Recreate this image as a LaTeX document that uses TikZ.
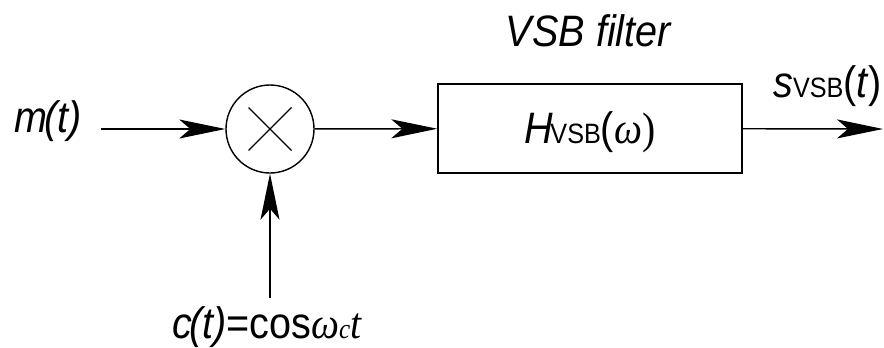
\documentclass[tikz,border=0pt]{standalone}
\usepackage{fontspec}
\setmainfont{Liberation Sans}[FakeStretch=0.9]
\newfontfamily\omfont{Liberation Serif}[FakeStretch=0.9]
\usetikzlibrary{arrows.meta,calc}
\newcommand\mysub[1]{{\fontsize{28}{32}\selectfont #1}}
\tikzset{
  lbl/.style={font=\fontsize{44}{50}\selectfont, inner sep=0pt},
  sig/.style={-{Stealth[length=46pt,width=19pt,inset=11pt]}, line width=1.4pt},
  blk/.style={draw, line width=1.4pt, inner sep=0pt},
}
\begin{document}
\begin{tikzpicture}[x=1pt,y=1pt]
\useasboundingbox (0,0) rectangle (884,-348);
\node[lbl, anchor=base west] (m) at (14,-132) {\textit{m}\kern-3pt\textit{(t)}};
\node[blk, circle, minimum size=88pt] (mul) at (270,-129) {};
\draw[line width=1.4pt] ($(mul.center)+(-21.5,21.5)$) -- ($(mul.center)+(21.5,-21.5)$);
\draw[line width=1.4pt] ($(mul.center)+(-21.5,-21.5)$) -- ($(mul.center)+(21.5,21.5)$);
\node[blk, rectangle, minimum width=304pt, minimum height=89pt] (flt) at (590,-128.5) {};
\node[lbl, anchor=base] (H) at (590,-143) {\textit{H}\kern-3pt\mysub{VSB}(\omfont\textit{ω})};
\node[lbl, anchor=base] (title) at (589,-46) {\textit{VSB filter}};
\node[lbl, anchor=base west] (s) at (773,-97) {\textit{s}\mysub{VSB}(\textit{t})};
\node[lbl, anchor=base west] (c) at (172,-338) {\textit{c}\kern-3pt\textit{(t)}=cos\omfont\textit{ω}\mysub{\textit{c}}\textit{t}};
\coordinate (in) at (101,-129);
\coordinate (out) at (883,-129);
\coordinate (cin) at (270,-298);
\draw[sig] (in) -- (mul);
\draw[sig] (mul) -- (flt);
\draw[sig] (flt) -- (out);
\draw[sig] (cin) -- (mul);
\end{tikzpicture}
\end{document}
